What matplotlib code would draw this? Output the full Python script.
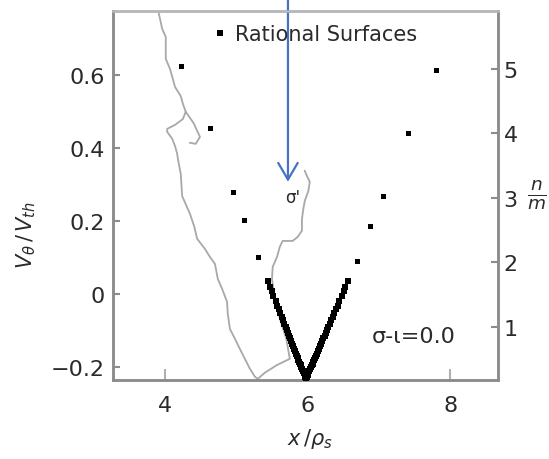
import matplotlib
matplotlib.use("Agg")
import matplotlib.pyplot as plt
import numpy as np

# Poloidal flow profile V_theta / V_th versus x / rho_s (left axis)
profile_x = [3.91, 3.93, 3.96, 4.01, 4.01, 4.07, 4.14, 4.22, 4.25, 4.29,
             4.25, 4.14, 4.03, 4.03, 4.10, 4.14, 4.17, 4.18, 4.22, 4.24,
             4.35, 4.41, 4.45, 4.56, 4.63, 4.70, 4.74, 4.80, 4.87, 4.88,
             4.91, 4.98, 5.05, 5.12, 5.19, 5.26, 5.30, 5.40, 5.57, 5.75,
             5.70, 5.61, 5.54, 5.50, 5.51, 5.57, 5.61, 5.65, 5.79, 5.86,
             5.92, 5.92, 5.94, 5.96, 6.01, 6.03, 5.99, 5.96]
profile_v = [0.770, 0.753, 0.726, 0.704, 0.644, 0.616, 0.567, 0.542, 0.521, 0.499,
             0.479, 0.463, 0.452, 0.444, 0.425, 0.405, 0.384, 0.370, 0.329, 0.268,
             0.219, 0.184, 0.151, 0.123, 0.101, 0.082, 0.041, 0.014, -0.022, -0.055,
             -0.096, -0.123, -0.151, -0.178, -0.205, -0.227, -0.233, -0.216, -0.195, -0.178,
             -0.123, -0.068, -0.014, 0.041, 0.074, 0.101, 0.129, 0.145, 0.145, 0.156,
             0.173, 0.205, 0.233, 0.255, 0.282, 0.307, 0.323, 0.337]
# short excursion branching off the profile near x = 4.3
hook_x = [4.29, 4.40, 4.49, 4.43, 4.35]
hook_v = [0.499, 0.468, 0.430, 0.411, 0.414]

# Rational surface positions, n/m (right axis); inner and outer branch
left_x = [4.22, 4.63, 4.95, 5.11, 5.30,
          5.440, 5.472, 5.497, 5.521, 5.550, 5.574, 5.595, 5.617, 5.638, 5.656,
          5.673, 5.691, 5.708, 5.726, 5.740, 5.754, 5.769, 5.783, 5.797, 5.811,
          5.825, 5.839, 5.850, 5.860, 5.871, 5.882, 5.892, 5.903, 5.913, 5.924,
          5.935, 5.945, 5.956, 5.966, 5.973]
left_nm = [5.04, 4.08, 3.09, 2.66, 2.08,
           1.71, 1.62, 1.55, 1.48, 1.40, 1.33, 1.27, 1.21, 1.15, 1.10,
           1.05, 1.00, 0.95, 0.90, 0.86, 0.82, 0.78, 0.74, 0.70, 0.66,
           0.62, 0.58, 0.55, 0.52, 0.49, 0.46, 0.43, 0.40, 0.37, 0.34,
           0.31, 0.28, 0.25, 0.22, 0.20]
right_x = [7.80, 7.41, 7.06, 6.88, 6.69,
           6.566, 6.531, 6.504, 6.477, 6.446, 6.419, 6.396, 6.372, 6.349, 6.330,
           6.310, 6.291, 6.272, 6.252, 6.237, 6.221, 6.206, 6.190, 6.175, 6.159,
           6.144, 6.128, 6.117, 6.105, 6.093, 6.082, 6.070, 6.058, 6.047, 6.035,
           6.023, 6.012, 6.000, 5.989, 5.981]
right_nm = [4.98, 4.00, 3.03, 2.56, 2.02,
            1.71, 1.62, 1.55, 1.48, 1.40, 1.33, 1.27, 1.21, 1.15, 1.10,
            1.05, 1.00, 0.95, 0.90, 0.86, 0.82, 0.78, 0.74, 0.70, 0.66,
            0.62, 0.58, 0.55, 0.52, 0.49, 0.46, 0.43, 0.40, 0.37, 0.34,
            0.31, 0.28, 0.25, 0.22, 0.20]

x_ticks = [4, 6, 8]
x_tick_labels = ["4", "6", "8"]
v_ticks = [0.6, 0.4, 0.2, 0.0, -0.2]
v_tick_labels = ["0.6", "0.4", "0.2", "0", "\u22120.2"]
nm_ticks = [1, 2, 3, 4, 5]
nm_tick_labels = ["1", "2", "3", "4", "5"]

plt.rcParams["font.family"] = ["DejaVu Sans"]
plt.rcParams["mathtext.fontset"] = "dejavusans"

fig = plt.figure(figsize=(5.49, 4.60), dpi=100)
ax = fig.add_axes([113 / 549, 79 / 460, 385 / 549, 369 / 460])
ax2 = ax.twinx()

spine_c = "#8c8c8c"
text_c = "#2a2a2a"

ax.plot(profile_x, profile_v, color="#a8a8a8", lw=1.3, zorder=2)
ax.plot(hook_x, hook_v, color="#a8a8a8", lw=1.3, zorder=2)
ax.set_xlim(3.27, 8.67)
ax.set_ylim(-0.236, 0.775)

ax2.plot(left_x[:5], left_nm[:5], "s", color="black", ms=3.6, mew=0, zorder=3,
         label="Rational Surfaces")
ax2.plot(left_x[5:], left_nm[5:], "s", color="black", ms=4.6, mew=0, zorder=3)
ax2.plot(right_x[:5], right_nm[:5], "s", color="black", ms=3.6, mew=0, zorder=3)
ax2.plot(right_x[5:], right_nm[5:], "s", color="black", ms=4.6, mew=0, zorder=3)
ax2.set_ylim(0.175, 5.896)

ax.set_xticks(x_ticks)
ax.set_xticklabels(x_tick_labels)
ax.set_yticks(v_ticks)
ax.set_yticklabels(v_tick_labels)
ax2.set_yticks(nm_ticks)
ax2.set_yticklabels(nm_tick_labels)

ax.tick_params(axis="x", direction="in", length=8, width=1.5, color="#b0b0b0",
               labelsize=16, labelcolor=text_c, pad=11)
ax.tick_params(axis="y", direction="in", length=5, width=1.5, color=spine_c,
               labelsize=16, labelcolor=text_c, pad=6)
ax2.tick_params(axis="y", direction="in", length=5, width=1.5, color=spine_c,
                labelsize=16, labelcolor=text_c, pad=4)

for a in (ax, ax2):
    for side in ("left", "right", "bottom"):
        a.spines[side].set_color(spine_c)
        a.spines[side].set_linewidth(1.8)
    a.spines["top"].set_color("#b8b8b8")
    a.spines["top"].set_linewidth(1.8)

ax.set_xlabel(r"$x\,/\rho_s$", fontsize=15, color=text_c)
ax.xaxis.set_label_coords(0.512, -0.125)
ax.set_ylabel(r"$V_\theta\,/\,V_{th}$", fontsize=15, color=text_c)
ax.yaxis.set_label_coords(-0.195, 0.396)
ax2.set_ylabel(r"$\frac{n}{m}$", fontsize=19, color=text_c, rotation=0,
               va="center", ha="center")
ax2.yaxis.set_label_coords(1.101, 0.504)

ax.text(6.90, -0.115, "\u03c3-\u03b9=0.0", fontsize=16, color=text_c,
        ha="left", va="center")
ax.text(5.79, 0.266, "\u03c3'", fontsize=12, color=text_c,
        ha="center", va="center")

leg = ax2.legend(loc="center left", bbox_to_anchor=(0.262, 0.938),
                 frameon=False, fontsize=15, handlelength=0.6,
                 handletextpad=0.4, borderpad=0, borderaxespad=0,
                 markerscale=1.3)
for t in leg.get_texts():
    t.set_color(text_c)

ax.annotate("", xy=(5.724, 0.307), xycoords="data",
            xytext=(5.724, 1.0), textcoords=("data", "figure fraction"),
            arrowprops=dict(arrowstyle="->,head_length=1.2,head_width=0.7",
                            color="#4472c4", lw=1.6, shrinkA=0, shrinkB=0,
                            mutation_scale=10),
            annotation_clip=False, zorder=5)

fig.savefig("out.png", dpi=100)
